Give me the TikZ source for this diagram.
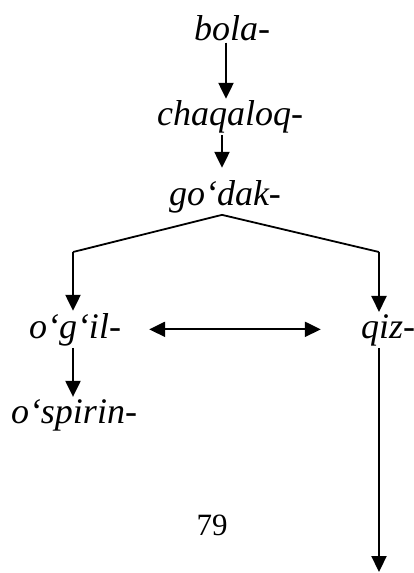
\documentclass[tikz,border=0pt]{standalone}
\usepackage{fontspec}
\setmainfont{Liberation Serif}
\usetikzlibrary{arrows.meta, positioning, calc}

\begin{document}
\begin{tikzpicture}[x=1pt, y=-1pt,
    every node/.style={font=\fontsize{36}{40}\selectfont\itshape, anchor=base, inner sep=2pt},
    tip/.style={Triangle[length=16pt, width=15pt]},
    arr/.style={-{Triangle[length=16pt, width=15pt]}, line width=2.2pt}]
    \useasboundingbox (0,0) rectangle (414,573);
    % words
    \node (bola) at (232,40) {bola-};
    \node (chaqaloq) at (230,125) {chaqaloq-};
    \node (godak) at (225,205) {go‘dak-};
    \node (ogil) at (75,338) {o‘g‘il-};
    \node (qiz) at (388,338) {qiz-};
    \node (ospirin) at (74,423) {o‘spirin-};
    \node[font=\fontsize{31}{36}\selectfont] (pagenum) at (212,535) {79};
    % branch points
    \coordinate (apex) at ([xshift=-3pt]godak.south);
    \coordinate (lc) at (73,252);
    \coordinate (rc) at (379,252);
    \coordinate (qend) at (379,572);
    % arrows
    \draw[arr] ([xshift=-6pt]bola.south) -- ([xshift=-6pt,yshift=-1pt]bola.south |- chaqaloq.north);
    \draw[arr] (chaqaloq.south -| apex) -- ([yshift=10pt]godak.north -| apex);
    \draw[line width=1.8pt] (lc) -- (apex) -- (rc);
    \draw[arr] (lc) -- (ogil.north -| lc);
    \draw[arr] (rc) -- (qiz.north -| rc);
    \draw[arr, {Triangle[length=16pt, width=15pt]}-{Triangle[length=16pt, width=15pt]}, shorten <=26pt, shorten >=38pt]
        (ogil.east) -- (ogil.east -| qiz.west);
    \draw[arr] (ogil.south -| lc) -- (ospirin.north -| lc);
    \draw[arr] (qiz.south -| rc) -- (qend);
\end{tikzpicture}
\end{document}
